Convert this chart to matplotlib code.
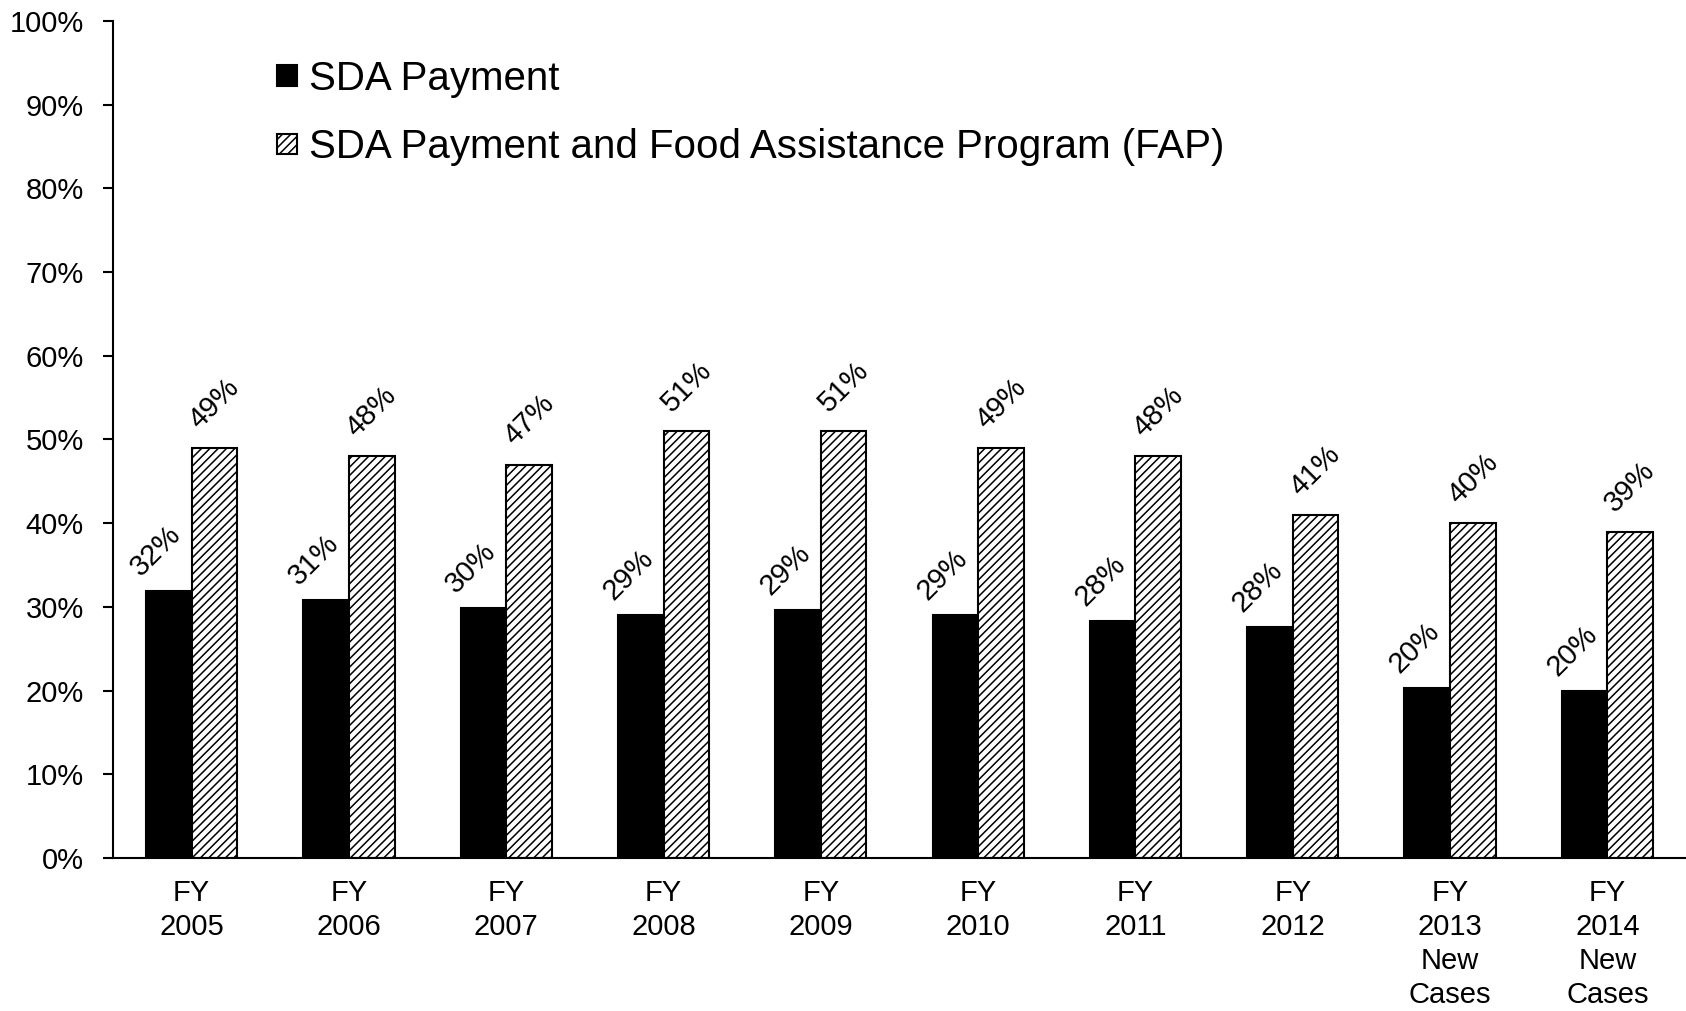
import matplotlib
matplotlib.use("Agg")
import matplotlib.pyplot as plt
import numpy as np

categories = ["FY\n2005", "FY\n2006", "FY\n2007", "FY\n2008", "FY\n2009",
              "FY\n2010", "FY\n2011", "FY\n2012", "FY\n2013\nNew\nCases", "FY\n2014\nNew\nCases"]
sda_payment = [31.9, 30.8, 29.9, 29.0, 29.6, 29.0, 28.3, 27.6, 20.3, 20.0]
sda_labels = ["32%", "31%", "30%", "29%", "29%", "29%", "28%", "28%", "20%", "20%"]
sda_fap = [49, 48, 47, 51, 51, 49, 48, 41, 40, 39]
fap_labels = ["49%", "48%", "47%", "51%", "51%", "49%", "48%", "41%", "40%", "39%"]
series_names = ["SDA Payment", "SDA Payment and Food Assistance Program (FAP)"]
yticks = [0, 10, 20, 30, 40, 50, 60, 70, 80, 90, 100]
ytick_labels = [f"{v}%" for v in yticks]

plt.rcParams['font.family'] = ['Liberation Sans', 'DejaVu Sans']
plt.rcParams['hatch.linewidth'] = 1.1
plt.rcParams['hatch.color'] = 'black'

fig = plt.figure(figsize=(16.86, 10.11), dpi=100)
ax = fig.add_axes([113/1686, 1-858/1011, 1-113/1686, (858-21)/1011])

x = np.arange(len(categories))
w = 0.29
ax.bar(x - w/2, sda_payment, w, color='black', edgecolor='black', linewidth=1.5,
       label=series_names[0])
ax.bar(x + w/2, sda_fap, w, color='white', edgecolor='black', linewidth=1.5,
       hatch='////', label=series_names[1])

for xi, v, lab in zip(x - w/2, sda_payment, sda_labels):
    ax.annotate(lab, (xi, v), xytext=(-9, 7), textcoords='offset points',
                rotation=45, ha='center', va='bottom', fontsize=21)
for xi, v, lab in zip(x + w/2, sda_fap, fap_labels):
    ax.annotate(lab, (xi, v), xytext=(0, 10), textcoords='offset points',
                rotation=45, ha='center', va='bottom', fontsize=21)

ax.set_xlim(-0.5, len(categories) - 0.5)
ax.set_ylim(0, 100)
ax.set_yticks(yticks)
ax.set_yticklabels(ytick_labels, fontsize=21)
ax.set_xticks(x)
ax.set_xticklabels(categories, fontsize=21, linespacing=1.28)
ax.tick_params(axis='x', length=0, pad=15)
ax.tick_params(axis='y', length=7, width=1.5, direction='out', pad=14)
for s in ['top', 'right']:
    ax.spines[s].set_visible(False)
for s in ['left', 'bottom']:
    ax.spines[s].set_linewidth(1.5)

ax.legend(loc='upper left', bbox_to_anchor=(277/1686, 1-60/1011),
          bbox_transform=fig.transFigure, frameon=False, fontsize=29,
          handlelength=0.5, handleheight=0.4, handletextpad=0.3,
          labelspacing=0.75, borderpad=0, borderaxespad=0)

fig.savefig("out.png", dpi=100)
